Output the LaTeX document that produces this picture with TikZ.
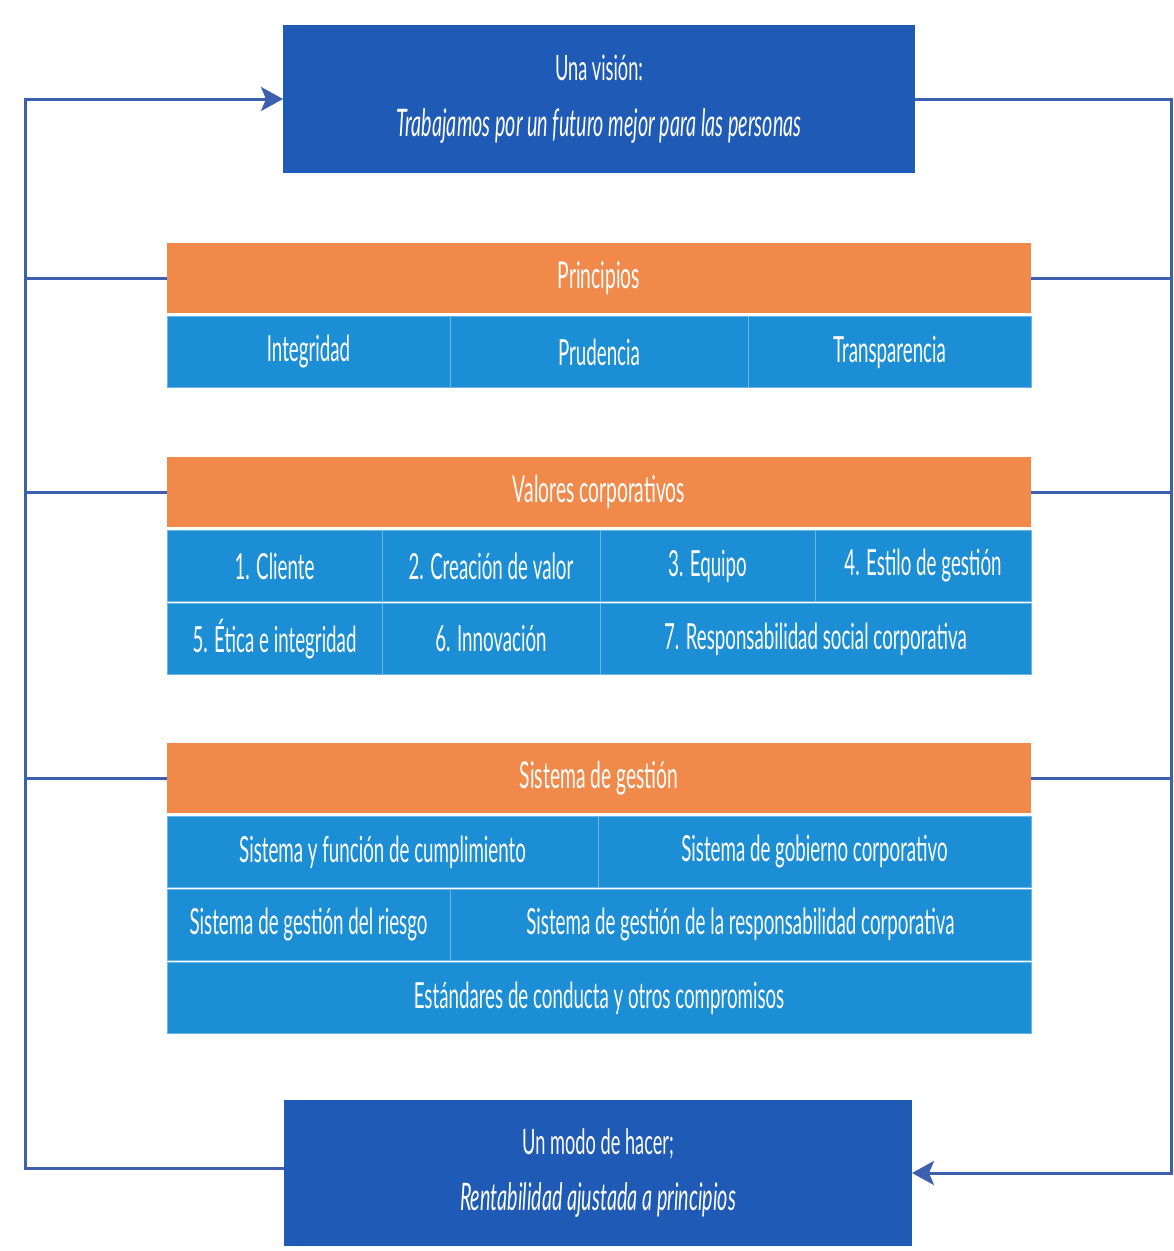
\documentclass[tikz,border=0pt]{standalone}
\usepackage{fontspec}
\setmainfont[FakeStretch=0.52]{Lato}
\usetikzlibrary{arrows.meta}
\definecolor{navy}{HTML}{1F5AB6}
\definecolor{amber}{HTML}{F0894A}
\definecolor{sky}{HTML}{1B8ED6}
\definecolor{wire}{HTML}{3D5FB0}
% one cell of a table row: name, left x, right x, centre y, text
\newcommand{\cellat}[5]{%
  \node[cell, minimum width={#3-#2}] (#1) at ({(#2+#3)/2},#4) {#5};}
\begin{document}
\begin{tikzpicture}[x=1pt,y=-1pt,
  every node/.style={text=white, inner sep=0pt, outer sep=0pt, align=center},
  mainbox/.style={fill=navy, minimum width=632pt, minimum height=148pt,
    font=\fontsize{35}{56}\selectfont},
  head/.style={fill=amber, minimum width=864pt, minimum height=70pt,
    font=\fontsize{37}{40}\selectfont},
  cell/.style={fill=sky, draw=sky!65!white, line width=1pt, minimum height=71pt,
    font=\fontsize{36}{40}\selectfont},
  wireline/.style={draw=wire, line width=3pt},
  tip/.style={-{Stealth[length=22pt,width=24pt,inset=5pt]}}
]
\path[use as bounding box] (0,0) rectangle (1174,1251);

% vision and way of working
\node[mainbox] (vision) at (599,99)
  {Una visión:\\ {\fontsize{38}{56}\selectfont\itshape Trabajamos por un futuro mejor para las personas}};
\node[mainbox, minimum width=628pt, minimum height=146pt] (modo) at (598,1173)
  {Un modo de hacer;\\ {\fontsize{38}{56}\selectfont\itshape Rentabilidad ajustada a principios}};

% principles
\node[head] (principios) at (599,278) {Principios};
\cellat{p1}{167}{450}{352}{Integridad}
\cellat{p2}{450}{748}{352}{Prudencia}
\cellat{p3}{748}{1031}{352}{Transparencia}

% corporate values
\node[head] (valores) at (599,492) {Valores corporativos};
\cellat{v1}{167}{382}{566}{1. Cliente}
\cellat{v2}{382}{600}{566}{2. Creación de valor}
\cellat{v3}{600}{815}{566}{3. Equipo}
\cellat{v4}{815}{1031}{566}{4. Estilo de gestión}
\cellat{v5}{167}{382}{639}{5. Ética e integridad}
\cellat{v6}{382}{600}{639}{6. Innovación}
\cellat{v7}{600}{1031}{639}{7. Responsabilidad social corporativa}

% management system
\node[head] (sistema) at (599,778) {Sistema de gestión};
\cellat{s1}{167}{598}{852}{Sistema y función de cumplimiento}
\cellat{s2}{598}{1031}{852}{Sistema de gobierno corporativo}
\cellat{s3}{167}{450}{925}{Sistema de gestión del riesgo}
\cellat{s4}{450}{1031}{925}{Sistema de gestión de la responsabilidad corporativa}
\cellat{s5}{167}{1031}{998}{Estándares de conducta y otros compromisos}

% feedback loops
\coordinate (lt) at (25,99);
\coordinate (rb) at (1171,1173);
\draw[wireline, tip] ([yshift=5pt]modo.west) -- ([yshift=5pt]modo.west -| lt) -- (lt) -- (vision.west);
\draw[wireline, tip] (vision.east) -- (vision.east -| rb) -- (rb) -- (modo.east);
\foreach \h in {principios, valores, sistema} {
  \draw[wireline] (\h.west) -- (\h.west -| lt);
  \draw[wireline] (\h.east) -- (\h.east -| rb);
}
\end{tikzpicture}
\end{document}
